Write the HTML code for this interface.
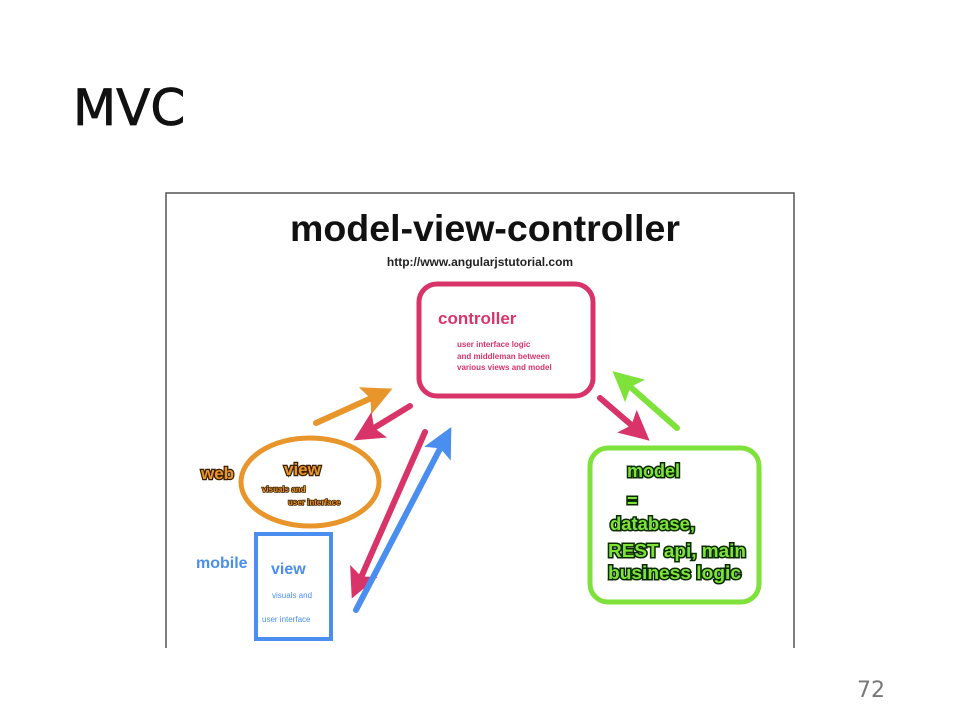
<!DOCTYPE html>
<html><head><meta charset="utf-8"><style>
html,body{margin:0;padding:0;background:#fff;width:960px;height:720px;overflow:hidden}
svg{display:block}
text{font-family:"Liberation Sans",sans-serif;font-weight:bold}
</style></head><body>
<svg width="960" height="720" viewBox="0 0 960 720" xmlns="http://www.w3.org/2000/svg">
<defs>
<marker id="h" markerWidth="5" markerHeight="5" refX="2" refY="2.5" orient="auto" markerUnits="strokeWidth"><path d="M0,0 L5,2.5 L0,5 L1,2.5 Z" fill="context-stroke"/></marker>
</defs>
<text x="73" y="125" font-size="50" style="font-weight:normal;font-family:'DejaVu Sans',sans-serif" fill="#111" stroke="#111" stroke-width="0.8">MVC</text>
<text x="857" y="697" font-size="22" style="font-weight:normal;font-family:'DejaVu Sans',sans-serif" fill="#777">72</text>
<path d="M166,648 L166,193 L794,193 L794,648" fill="none" stroke="#555" stroke-width="1.5"/>
<text x="290" y="241" font-size="37" fill="#111" stroke="#fff" stroke-width="3" paint-order="stroke" textLength="390" lengthAdjust="spacingAndGlyphs">model-view-controller</text>
<text x="480" y="266" font-size="12" text-anchor="middle" fill="#222">http://www.angularjstutorial.com</text>
<rect x="419" y="284" width="174" height="112" rx="18" fill="#fff" stroke="#d9346a" stroke-width="5"/>
<text x="438" y="324" font-size="17" fill="#d9346a">controller</text>
<g font-size="8" fill="#d9346a" style="font-weight:normal">
<text x="457" y="347">user interface logic</text>
<text x="457" y="359">and middleman between</text>
<text x="457" y="370">various views and model</text>
</g>
<g stroke-linecap="round" fill="none">
<line x1="316" y1="423" x2="376" y2="396" stroke="#e8952b" stroke-width="6" marker-end="url(#h)"/>
<line x1="410" y1="406" x2="369" y2="431" stroke="#d9346a" stroke-width="6" marker-end="url(#h)"/>
<line x1="425" y1="432" x2="359" y2="582" stroke="#d9346a" stroke-width="6" marker-end="url(#h)"/>
<line x1="356" y1="610" x2="443" y2="443" stroke="#4a8ef0" stroke-width="6" marker-end="url(#h)"/>
<line x1="600" y1="398" x2="636" y2="429" stroke="#d9346a" stroke-width="6" marker-end="url(#h)"/>
<line x1="677" y1="428" x2="626" y2="383" stroke="#7ee23a" stroke-width="6" marker-end="url(#h)"/>
</g>
<ellipse cx="310" cy="482" rx="69" ry="44" fill="none" stroke="#e8952b" stroke-width="5"/>
<g fill="#e8952b" stroke="#3a2000" stroke-width="2.5" paint-order="stroke">
<text x="201" y="479" font-size="17">web</text>
<text x="284" y="475" font-size="17">view</text>
<text x="262" y="492" font-size="8" stroke-width="1.5">visuals and</text>
<text x="288" y="505" font-size="8" stroke-width="1.5">user interface</text>
</g>
<rect x="256" y="534" width="75" height="105" fill="none" stroke="#4a8ef0" stroke-width="4"/>
<g fill="#4a8ef0">
<text x="196" y="568" font-size="16">mobile</text>
<text x="271" y="574" font-size="16">view</text>
<text x="272" y="598" font-size="8" style="font-weight:normal">visuals and</text>
<text x="262" y="622" font-size="8" style="font-weight:normal">user interface</text>
</g>
<rect x="590" y="448" width="169" height="154" rx="18" fill="#fff" stroke="#7ee23a" stroke-width="5"/>
<g fill="#7ee23a" stroke="#0c2a00" stroke-width="3" paint-order="stroke" font-size="18">
<text x="627" y="477">model</text>
<text x="627" y="507">=</text>
<text x="610" y="530" textLength="85" lengthAdjust="spacingAndGlyphs">database,</text>
<text x="608" y="557" textLength="138" lengthAdjust="spacingAndGlyphs">REST api, main</text>
<text x="608" y="579" textLength="133" lengthAdjust="spacingAndGlyphs">business logic</text>
</g>
</svg>
</body></html>
